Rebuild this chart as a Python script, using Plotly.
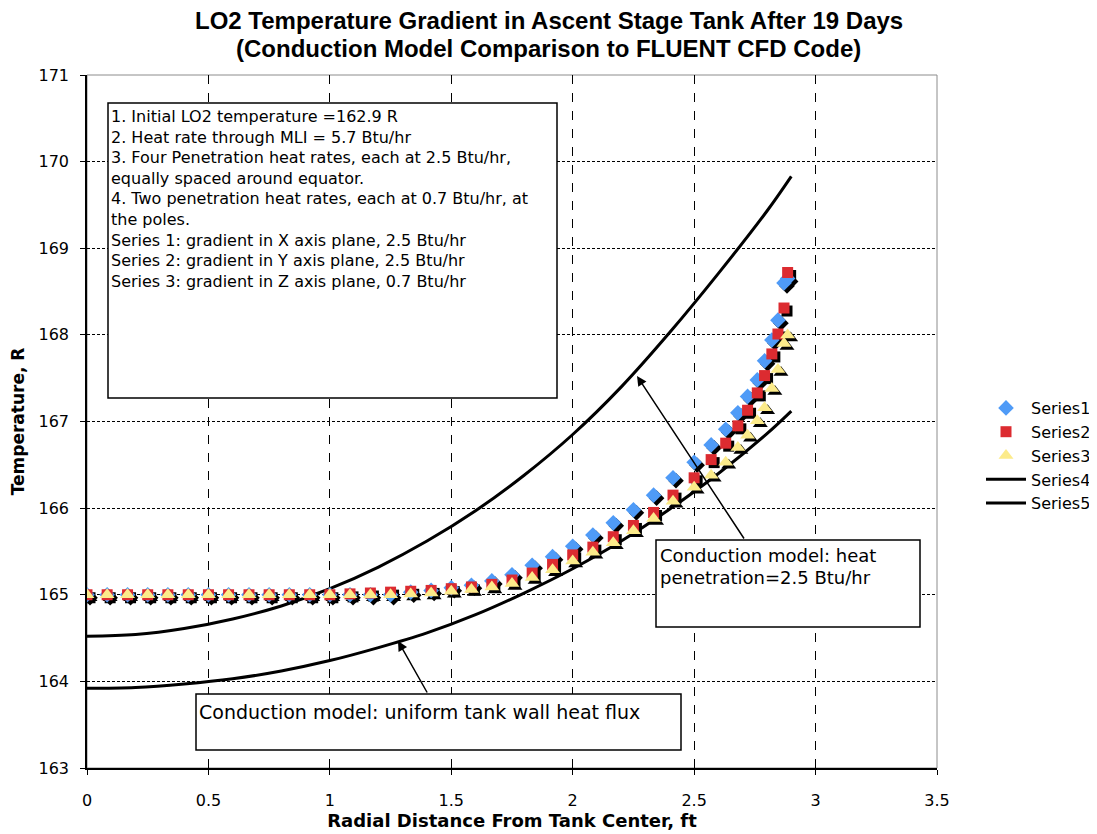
import plotly.graph_objects as go

# ---------------- data ----------------
x_fluent = [0, 0.083, 0.167, 0.25, 0.333, 0.417, 0.5, 0.583, 0.667, 0.75, 0.833, 0.917, 1.0,
            1.083, 1.167, 1.25, 1.333, 1.417, 1.5, 1.583, 1.667, 1.75, 1.833, 1.917, 2.0,
            2.083, 2.167, 2.25, 2.333, 2.413, 2.5, 2.57, 2.63, 2.68, 2.72, 2.76, 2.79,
            2.82, 2.845, 2.87, 2.885]

series1 = [165.0]*16 + [165.03, 165.05, 165.08, 165.11, 165.16, 165.23, 165.34, 165.44, 165.56,
                        165.69, 165.83, 165.98, 166.15, 166.35, 166.53, 166.73, 166.91, 167.1,
                        167.29, 167.48, 167.7, 167.94, 168.17, 168.6, 168.65]
series2 = [165.0]*13 + [165.01, 165.02, 165.03, 165.04, 165.05, 165.07, 165.09, 165.12, 165.17,
                        165.25, 165.35, 165.46, 165.55, 165.67, 165.8, 165.95, 166.15, 166.35,
                        166.56, 166.75, 166.95, 167.13, 167.33, 167.53, 167.78, 168.01, 168.31,
                        168.72]
series3 = [165.0]*16 + [165.01, 165.02, 165.04, 165.06, 165.09, 165.13, 165.2, 165.29, 165.39,
                        165.49, 165.6, 165.74, 165.88, 166.08, 166.24, 166.38, 166.53, 166.7,
                        166.84, 167.01, 167.16, 167.38, 167.6, 167.9, 168.0]

x_model = [0, 0.2, 0.4, 0.6, 0.8, 1.0, 1.2, 1.4, 1.6, 1.8, 2.0, 2.2, 2.4, 2.6, 2.8, 2.9]
series4 = [164.52, 164.54, 164.61, 164.72, 164.87, 165.07, 165.32, 165.62, 165.97, 166.38,
           166.85, 167.4, 168.03, 168.71, 169.43, 169.83]
series5 = [163.92, 163.93, 163.97, 164.03, 164.12, 164.24, 164.39, 164.56, 164.77, 165.02,
           165.30, 165.62, 165.99, 166.40, 166.86, 167.12]

x_ticks = [0, 0.5, 1, 1.5, 2, 2.5, 3, 3.5]
y_ticks = [163, 164, 165, 166, 167, 168, 169, 170, 171]

title_lines = ["LO2 Temperature Gradient in Ascent Stage Tank After 19 Days",
               "(Conduction Model Comparison to FLUENT CFD Code)"]
note_lines = [
    "1. Initial LO2 temperature =162.9 R",
    "2. Heat rate through MLI = 5.7 Btu/hr",
    "3. Four Penetration heat rates, each at 2.5 Btu/hr,",
    "equally spaced around equator.",
    "4. Two penetration heat rates, each at 0.7 Btu/hr, at",
    "the poles.",
    "Series 1: gradient in X axis plane, 2.5 Btu/hr",
    "Series 2: gradient in Y axis plane, 2.5 Btu/hr",
    "Series 3: gradient in Z axis plane, 0.7 Btu/hr",
]
penetration_lines = ["Conduction model: heat", "penetration=2.5 Btu/hr"]
uniform_lines = ["Conduction model: uniform tank wall heat flux"]

# ---------------- layout geometry (screen pixels) ----------------
PAGE = 8                      # default body margin of the html page
W, H = 1097 - PAGE, 834 - PAGE
PL, PR, PT, PB = 87, 937, 75, 768   # plot area on screen
ML, MT = PL - PAGE, PT - PAGE
MR, MB = W - (PR - PAGE), H - (PB - PAGE)
XR = [0, 3.5]
YR = [163, 171]
pw, ph = PR - PL, PB - PT
sx = (XR[1] - XR[0]) / pw
sy = (YR[1] - YR[0]) / ph
shx, shy = 3 * sx, 3 * sy  # shadow offset (3px right / down)

TXT = "DejaVu Sans"
fig = go.Figure()

# model lines (base axes)
fig.add_trace(go.Scatter(x=x_model, y=series4, mode="lines", name="Series4",
                         line=dict(color="black", width=3, shape="spline"),
                         legendgroup="4", legendrank=4))
fig.add_trace(go.Scatter(x=x_model, y=series5, mode="lines", name="Series5",
                         line=dict(color="black", width=3, shape="spline"),
                         legendgroup="5", legendrank=5))

markers = [
    ("Series1", series1, "diamond", 12, "#4F9BF7"),
    ("Series2", series2, "square", 11, "#DC2B30"),
    ("Series3", series3, "triangle-up", 13, "#FCEB8A"),
]
# shadows on shifted overlay axes
for name, ys, sym, sz, col in markers:
    fig.add_trace(go.Scatter(x=x_fluent, y=ys, mode="markers", showlegend=False,
                             hoverinfo="skip", xaxis="x2", yaxis="y2",
                             marker=dict(symbol=sym, size=sz, color="black")))
for i, (name, ys, sym, sz, col) in enumerate(markers):
    fig.add_trace(go.Scatter(x=x_fluent, y=ys, mode="markers", name=name,
                             xaxis="x3", yaxis="y3", legendgroup=str(i + 1),
                             legendrank=i + 1,
                             marker=dict(symbol=sym, size=sz, color=col)))

axis_common = dict(showline=False, showgrid=False, zeroline=False, visible=False)
fig.update_layout(
    width=W, height=H,
    margin=dict(l=ML, r=MR, t=MT, b=MB, autoexpand=False),
    paper_bgcolor="white", plot_bgcolor="white",
    font=dict(family=TXT, color="black"),
    xaxis=dict(range=XR, tickvals=x_ticks, ticktext=[str(v) for v in x_ticks],
               showgrid=True, gridcolor="black", gridwidth=1, griddash="dash",
               showline=True, linecolor="black", linewidth=1.5,
               ticks="outside", ticklen=5, tickcolor="black",
               ticklabelstandoff=12, zeroline=False, automargin=False,
               tickfont=dict(family=TXT, size=16),
               title=dict(text="<b>Radial Distance From Tank Center, ft</b>",
                          font=dict(family=TXT, size=18), standoff=4)),
    yaxis=dict(range=YR, tickvals=y_ticks, ticktext=[str(v) for v in y_ticks],
               showgrid=True, gridcolor="black", gridwidth=1, griddash="3px,2px",
               showline=True, linecolor="black", linewidth=1.5,
               ticks="outside", ticklen=5, tickcolor="black",
               ticklabelstandoff=8, zeroline=False, automargin=False,
               tickfont=dict(family=TXT, size=16),
               title=dict(text="<b>Temperature, R</b>",
                          font=dict(family=TXT, size=17), standoff=10)),
    xaxis2=dict(range=[XR[0] - shx, XR[1] - shx], overlaying="x", **axis_common),
    yaxis2=dict(range=[YR[0] + shy, YR[1] + shy], overlaying="y", **axis_common),
    xaxis3=dict(range=XR, overlaying="x", **axis_common),
    yaxis3=dict(range=YR, overlaying="y", **axis_common),
    legend=dict(x=(981 - PL) / pw, xanchor="left", y=(PB - 391) / ph, yanchor="top",
                font=dict(family=TXT, size=16), bgcolor="rgba(0,0,0,0)",
                tracegroupgap=0, itemwidth=40),
    showlegend=True,
)

# plot-area border
fig.add_shape(type="rect", xref="paper", yref="paper", x0=0, x1=1, y0=0, y1=1,
              line=dict(color="#8c8c8c", width=1), layer="below")

# title (two lines, centred on the page)
for k, t in enumerate(title_lines):
    fig.add_annotation(x=(1097 / 2 - PL) / pw, y=(PB - (20 + 28 * k)) / ph,
                       xref="paper", yref="paper", text="<b>" + t + "</b>",
                       showarrow=False, xanchor="center", yanchor="middle",
                       font=dict(family="Liberation Sans", size=24, color="black"))


def px2x(p):
    return XR[0] + (p - PL) * sx


def px2y(p):
    return YR[1] - (p - PT) * sy


def box(x0, y0, x1, y1):
    fig.add_shape(type="rect", xref="x", yref="y",
                  x0=px2x(x0), x1=px2x(x1), y0=px2y(y1), y1=px2y(y0),
                  line=dict(color="black", width=1.5), fillcolor="white", layer="above")


def lines_text(lines, left, top, step, size):
    for k, t in enumerate(lines):
        fig.add_annotation(x=px2x(left), y=px2y(top + k * step), xref="x", yref="y",
                           text=t, showarrow=False, xanchor="left", yanchor="top",
                           font=dict(family=TXT, size=size, color="black"))


def arrow(tail, head):
    fig.add_annotation(x=px2x(head[0]), y=px2y(head[1]), ax=px2x(tail[0]), ay=px2y(tail[1]),
                       xref="x", yref="y", axref="x", ayref="y", text="",
                       showarrow=True, arrowhead=2, arrowsize=1.3, arrowwidth=1.5,
                       arrowcolor="black")


box(108, 103, 557, 398)
lines_text(note_lines, 109, 105, 20.6, 16)
box(656, 540, 920, 627)
lines_text(penetration_lines, 658, 543, 22, 18)
box(196, 694, 681, 750)
lines_text(uniform_lines, 197, 699, 22, 19)
arrow((745, 540), (637, 376))
arrow((428, 694), (398, 641))

fig.write_html("out.html")
